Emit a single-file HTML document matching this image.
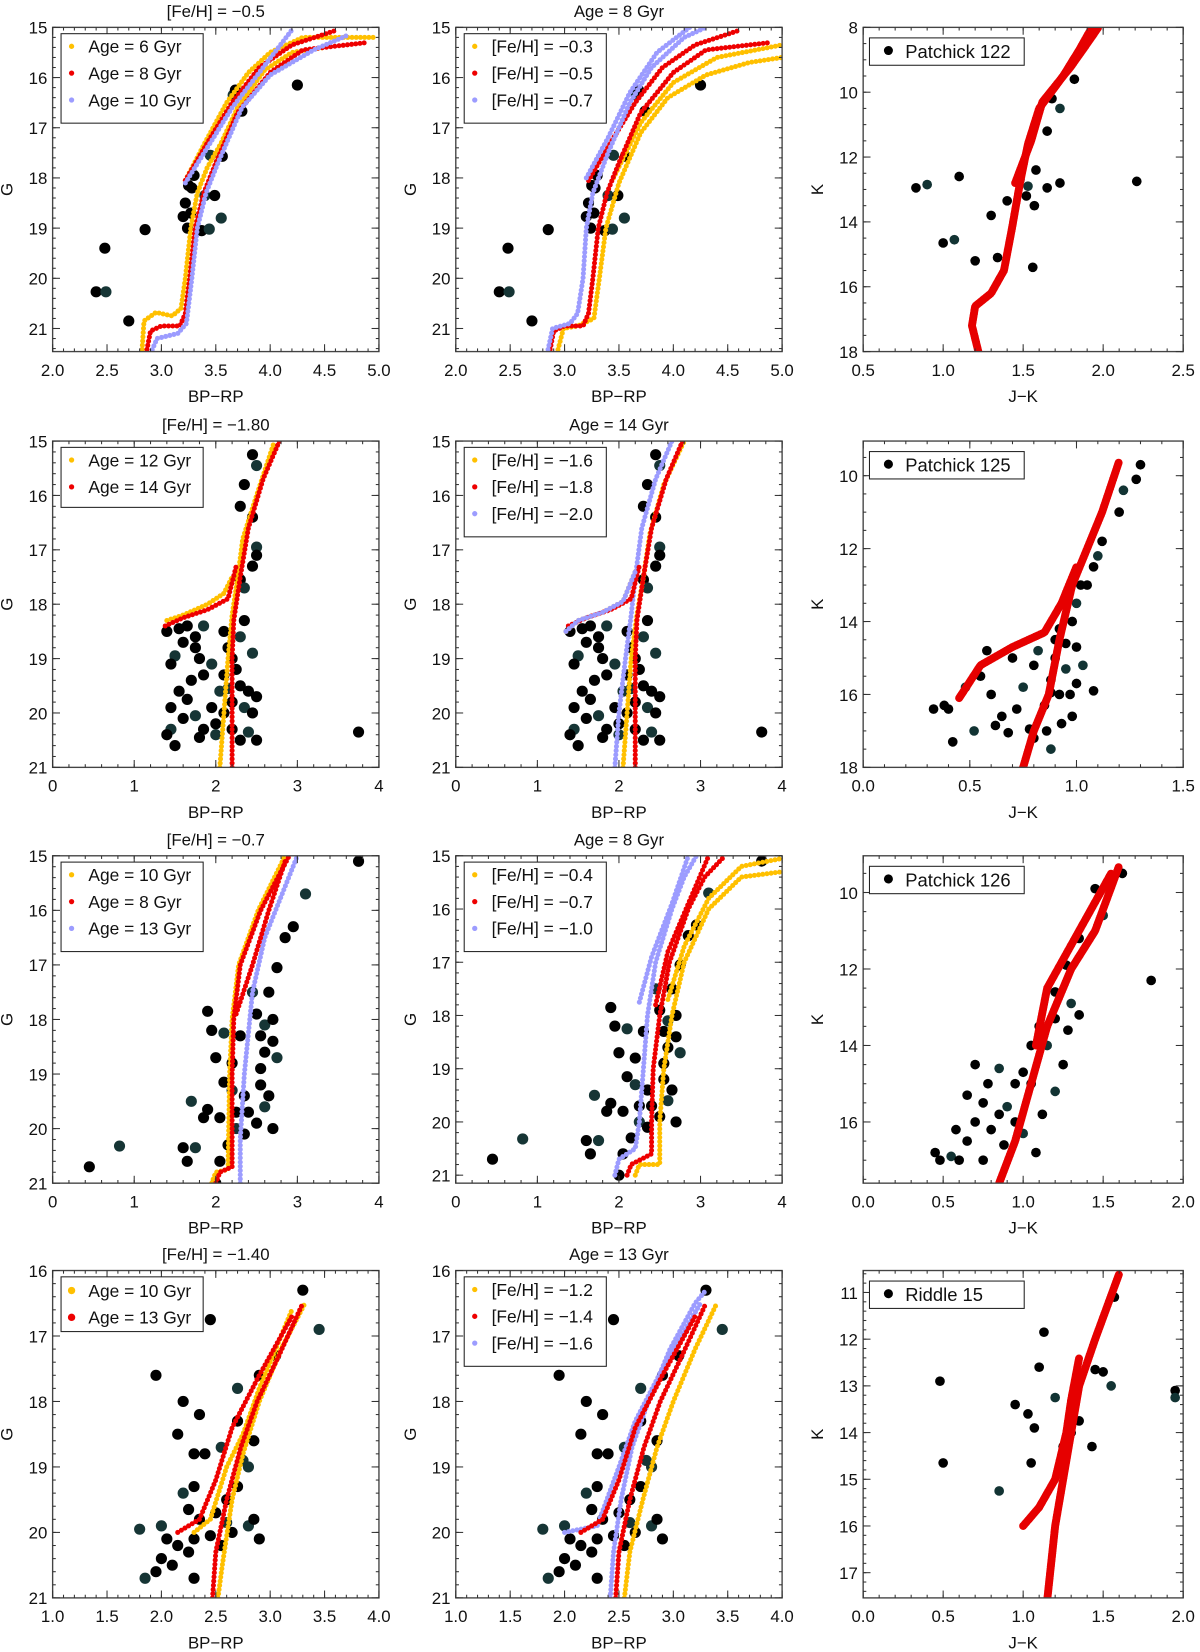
<!DOCTYPE html>
<html><head><meta charset="utf-8"><style>
html,body{margin:0;padding:0;background:#fff}
svg{display:block;font-family:"Liberation Sans","DejaVu Sans",sans-serif}
</style></head><body>
<svg id="fig" width="1200" height="1652" viewBox="0 0 1140 1569.4" preserveAspectRatio="none" xmlns="http://www.w3.org/2000/svg"></svg>
<script>
// ---------- DATA ----------
const ptsA = [[4.25,16.15],[3.66,16.35],[3.68,16.25],[3.74,16.67],[3.56,17.57],[3.45,17.55],[3.3,17.95],[3.25,18.15],[3.28,18.2],[3.4,18.35],[3.49,18.35],[3.22,18.5],[3.2,18.77],[3.55,18.8],[3.27,18.7],[3.24,19.0],[3.37,19.05],[3.44,19.02],[2.85,19.03],[2.48,19.4],[2.4,20.27],[2.49,20.27],[2.7,20.85]];
const iso1_6 = [[2.82,21.5],[2.84,20.85],[2.95,20.68],[3.1,20.75],[3.18,20.6],[3.22,20.0],[3.27,19.0],[3.33,18.3],[3.42,17.8],[3.55,17.3],[3.7,16.6],[3.95,15.85],[4.2,15.5],[4.5,15.4]];
const iso1_6b = [[3.22,18.05],[3.4,17.3],[3.6,16.5],[3.8,15.9],[4.0,15.5],[4.3,15.2],[4.95,15.2]];
const iso1_8 = [[2.86,21.5],[2.9,21.05],[3.0,20.95],[3.17,20.95],[3.22,20.7],[3.26,20.0],[3.31,19.0],[3.39,18.3],[3.5,17.7],[3.7,16.7],[4.0,15.9],[4.3,15.45],[4.9,15.3]];
const iso1_8b = [[3.22,18.05],[3.45,17.2],[3.65,16.5],[3.9,15.8],[4.2,15.35],[4.62,15.05]];
const iso1_10 = [[2.9,21.5],[2.96,21.2],[3.15,21.1],[3.23,20.9],[3.28,20.0],[3.33,19.0],[3.41,18.3],[3.52,17.7],[3.74,16.6],[4.0,15.95],[4.4,15.45],[4.72,15.15]];
const iso1_10b = [[3.22,18.1],[3.45,17.3],[3.65,16.6],[3.9,15.9],[4.2,15.05]];
const iso2_03 = [[2.93,21.5],[2.99,21.0],[3.12,20.95],[3.27,20.8],[3.32,20.0],[3.38,19.0],[3.5,18.1],[3.7,17.1],[3.95,16.4],[4.3,15.95],[4.7,15.7],[5.0,15.6]];
const iso2_03b = [[3.45,18.0],[3.7,16.9],[4.0,16.1],[4.4,15.6],[5.0,15.35]];
const iso2_07 = [[2.84,21.5],[2.89,21.0],[3.05,20.9],[3.12,20.7],[3.17,20.0],[3.2,19.0],[3.26,18.3],[3.4,17.5],[3.6,16.5],[3.8,15.8],[4.1,15.2],[4.3,15.0]];
const iso2_07b = [[3.2,18.0],[3.4,17.2],[3.6,16.3],[3.85,15.5],[4.15,15.0]];
const pts3 = [[1.82,9.6],[1.68,10.2],[1.73,10.5],[1.65,11.2],[1.1,12.6],[1.48,12.7],[1.58,12.4],[1.53,12.9],[1.65,12.95],[1.73,12.8],[1.52,13.2],[0.83,12.95],[0.9,12.85],[1.57,13.5],[1.3,13.8],[1.4,13.35],[1.0,14.65],[1.07,14.55],[1.2,15.2],[1.34,15.1],[1.56,15.4],[2.21,12.75]];
const iso3 = [[1.22,18],[1.18,17.2],[1.2,16.6],[1.3,16.2],[1.38,15.5],[1.43,14.2],[1.48,12.8],[1.53,11.6],[1.6,10.5],[1.75,9.5],[1.85,8.7],[1.93,8]];
const iso3b = [[1.45,12.8],[1.55,11.5],[1.62,10.3],[1.8,9.2],[1.9,8.5],[1.97,8]];
const ptsB = [[2.45,15.25],[2.5,15.45],[2.35,15.8],[2.3,16.2],[2.45,16.4],[2.5,16.95],[2.5,17.1],[2.45,17.3],[2.3,17.55],[2.35,17.7],[1.4,18.5],[1.55,18.45],[1.65,18.4],[1.85,18.4],[1.75,18.6],[1.6,18.7],[1.75,18.8],[1.5,18.95],[1.45,19.1],[1.8,19.0],[1.85,19.3],[1.95,19.1],[2.1,18.5],[2.15,18.8],[2.2,19.0],[2.3,18.6],[2.25,19.2],[2.1,19.3],[2.3,19.5],[2.15,19.55],[2.4,19.6],[2.5,19.7],[2.2,19.8],[2.35,19.9],[2.1,20.0],[2.45,20.0],[2.2,20.3],[2.4,20.35],[1.55,19.6],[1.45,19.9],[1.65,19.75],[1.75,20.05],[1.95,19.9],[1.85,20.3],[2.0,20.2],[1.45,20.3],[1.4,20.4],[1.5,20.6],[1.8,20.45],[2.0,20.4],[2.3,20.5],[2.5,20.5],[3.75,20.35],[2.45,18.9],[2.35,18.3],[1.7,19.4],[1.6,20.1],[2.05,19.6]];
const iso4_12 = [[2.05,21],[2.1,20],[2.15,19],[2.2,18.2],[2.27,17.5],[2.33,16.8],[2.5,16.0],[2.72,15]];
const iso4_12b = [[1.4,18.3],[1.6,18.2],[1.9,18.0],[2.1,17.8],[2.2,17.5]];
const iso4_14 = [[2.2,21],[2.2,20],[2.2,19],[2.22,18.3],[2.3,17.5],[2.4,16.6],[2.58,15.7],[2.78,15]];
const iso4_14b = [[1.38,18.4],[1.6,18.25],[1.9,18.1],[2.15,17.9],[2.25,17.3]];
const iso5_16 = [[2.05,21],[2.1,20],[2.15,19],[2.22,18.2],[2.3,17.5],[2.38,16.7],[2.55,15.8],[2.8,15]];
const iso5_20 = [[1.95,21],[2.0,20],[2.08,19],[2.15,18.2],[2.2,17.5],[2.28,16.6],[2.45,15.7],[2.65,15]];
const iso5_b = [[1.35,18.5],[1.5,18.3],[1.8,18.15],[2.05,17.95],[2.2,17.4]];
const pts6 = [[1.3,9.7],[1.28,10.1],[1.22,10.4],[1.2,11],[1.12,11.8],[1.08,12.5],[1.05,13.0],[1.0,13.5],[0.98,14.0],[0.92,14.2],[0.95,14.6],[0.9,15],[0.95,15.3],[0.88,15.6],[0.92,16.0],[0.85,16.3],[0.8,15.2],[0.75,15.8],[0.72,16.4],[0.65,16.6],[0.6,16.0],[0.55,15.5],[0.48,15.8],[0.4,16.4],[0.33,16.4],[0.38,16.3],[0.42,17.3],[0.52,17.0],[0.62,16.85],[0.68,17.05],[0.78,16.95],[0.8,17.2],[0.88,17.5],[0.98,16.6],[1.0,15.7],[1.08,15.9],[1.0,14.7],[0.82,14.8],[0.7,15.0],[0.58,14.8],[0.86,17.0],[0.97,16.0],[1.03,15.2],[0.9,14.5],[0.88,15.95],[0.93,16.8],[1.02,13.0],[1.1,12.2]];
const iso6 = [[0.75,18],[0.8,17],[0.87,16],[0.92,14.5],[0.98,13],[1.05,12],[1.12,11],[1.2,9.6]];
const iso6b = [[0.45,16.1],[0.55,15.2],[0.7,14.7],[0.85,14.3],[0.93,13.5],[1.0,12.5]];
const ptsC = [[3.75,15.1],[3.1,15.7],[2.95,16.3],[2.85,16.5],[2.65,17.5],[2.45,17.5],[2.75,17.05],[1.9,17.85],[2.5,17.9],[2.6,18.1],[2.7,18.0],[2.55,18.3],[2.7,18.4],[2.75,18.7],[2.6,18.6],[2.3,18.3],[1.95,18.2],[2.1,18.25],[2.2,18.8],[2.0,18.7],[2.1,19.15],[2.2,19.3],[2.35,19.4],[2.55,19.2],[2.65,19.4],[2.6,19.6],[2.4,19.7],[2.25,19.7],[2.05,19.8],[2.25,20.0],[2.35,20.1],[2.15,20.3],[2.5,19.9],[1.7,19.5],[1.85,19.8],[1.9,19.65],[1.6,20.35],[1.75,20.35],[1.65,20.6],[2.05,20.6],[2.0,21.0],[0.82,20.32],[0.45,20.7],[2.7,20.0],[2.55,18.9]];
const iso7_8 = [[2.0,21],[2.05,20.8],[2.2,20.7],[2.2,19],[2.22,18],[2.3,17],[2.55,16],[2.9,15]];
const iso7_10 = [[1.95,21],[2.0,20.8],[2.15,20.75],[2.17,19],[2.2,18],[2.28,17],[2.52,16],[2.85,15]];
const iso7_13 = [[2.3,21],[2.3,20.2],[2.35,19],[2.45,17.5],[2.6,16.5],[3.0,15]];
const iso7_b = [[2.25,17.9],[2.45,17.0],[2.65,16.0],[2.85,15.1]];
const iso8_04 = [[2.2,21],[2.25,20.8],[2.5,20.8],[2.5,20.0],[2.55,19.0],[2.65,18.0],[2.8,17.0],[3.1,16.0],[3.5,15.4],[4.0,15.3]];
const iso8_04b = [[2.6,17.7],[2.8,16.7],[3.1,15.8],[3.5,15.2],[4.0,15.05]];
const iso8_07 = [[2.1,21],[2.15,20.8],[2.4,20.6],[2.4,20.0],[2.42,19.0],[2.5,18.0],[2.62,17.0],[2.85,16.0],[3.05,15.4],[3.3,15.0]];
const iso8_07b = [[2.45,17.8],[2.6,16.8],[2.85,15.9],[3.1,15.0]];
const iso8_10 = [[1.95,21],[2.0,20.7],[2.2,20.5],[2.25,20.0],[2.3,19.0],[2.35,18.0],[2.45,17.0],[2.65,16.0],[2.8,15.4],[2.95,15.0]];
const iso8_10b = [[2.25,17.75],[2.4,16.9],[2.65,15.9],[2.85,15.0]];
const pts9 = [[1.62,9.5],[1.45,9.9],[1.5,10.6],[1.35,11.2],[1.27,11.9],[1.8,12.3],[1.2,12.6],[1.3,12.9],[1.35,13.2],[1.28,13.6],[1.2,13.3],[1.1,13.5],[1.15,14.0],[1.25,14.5],[1.05,14.0],[1.0,14.7],[0.95,15.0],[0.85,14.6],[0.78,15.0],[0.7,14.5],[0.65,15.3],[0.75,15.5],[0.9,15.6],[0.95,16.0],[0.8,16.2],[0.7,16.0],[0.65,16.5],[0.55,16.9],[0.45,16.8],[0.48,17.0],[0.6,17.0],[0.75,17.0],[1.0,16.3],[1.12,15.8],[1.08,16.8],[0.88,16.6],[1.05,15.0],[1.2,15.2],[0.58,16.2],[0.85,15.8]];
const iso9 = [[0.85,17.6],[0.95,16.5],[1.05,15],[1.15,13.5],[1.3,12],[1.45,11],[1.6,9.3]];
const iso9b = [[1.08,14],[1.15,12.5],[1.35,11],[1.55,9.5]];
const ptsD = [[3.3,16.3],[3.45,16.9],[2.45,16.75],[1.95,17.6],[2.2,18.0],[2.55,18.7],[2.4,18.8],[2.7,18.3],[2.85,18.6],[2.8,19.0],[2.7,19.3],[2.6,19.5],[2.3,19.3],[2.2,19.4],[2.25,19.65],[2.35,19.8],[2.5,19.7],[2.8,19.9],[2.65,20.0],[2.9,20.1],[2.85,19.8],[2.0,19.9],[2.05,20.1],[2.15,20.2],[2.3,20.1],[1.8,19.95],[2.0,20.4],[2.1,20.5],[1.95,20.6],[1.85,20.7],[2.3,20.7],[2.25,20.3],[2.55,20.2],[2.6,19.85],[2.45,20.05],[2.3,18.8],[2.15,18.5],[2.7,17.8],[2.9,17.6],[3.05,17.3],[2.35,18.2],[2.75,18.9]];
const iso10_10 = [[2.52,21],[2.56,20.5],[2.65,19.5],[2.75,18.8],[2.9,18],[3.1,17.2],[3.32,16.5]];
const iso10_10b = [[2.3,20],[2.45,19.8],[2.6,19],[2.75,18.5],[2.9,17.8],[3.2,16.6]];
const iso10_13 = [[2.47,21],[2.5,20.3],[2.6,19.5],[2.73,18.7],[2.88,18.0],[3.08,17.3],[3.3,16.5]];
const iso10_13b = [[2.15,20.0],[2.35,19.8],[2.5,19.2],[2.65,18.4],[2.9,17.6],[3.2,16.7]];
const iso11_12 = [[2.55,21],[2.6,20.3],[2.72,19.5],[2.85,18.7],[3.0,18.0],[3.2,17.2],[3.4,16.5]];
const iso11_16 = [[2.42,21],[2.45,20.3],[2.52,19.5],[2.62,18.7],[2.77,18.0],[2.97,17.2],[3.2,16.5],[3.3,16.3]];
const iso11_b = [[2.0,20.0],[2.3,19.9],[2.5,19.0],[2.65,18.3],[2.9,17.5],[3.25,16.5]];
const pts12 = [[0.48,12.9],[0.5,14.65],[0.85,15.25],[0.95,13.4],[1.03,13.6],[1.1,12.6],[1.13,11.85],[1.2,13.25],[1.25,14.3],[1.3,14.0],[1.35,13.75],[1.5,12.7],[1.55,13.0],[1.43,14.3],[1.45,12.65],[1.57,11.1],[1.95,13.1],[1.95,13.25],[1.05,14.65],[1.07,13.9]];
const iso12 = [[1.15,17.6],[1.2,16],[1.25,15],[1.3,14],[1.35,13],[1.45,12],[1.6,10.6]];
const iso12b = [[1.0,16.0],[1.1,15.6],[1.2,15],[1.27,14],[1.3,13.3],[1.35,12.4]];

const ticksA = [2.0,2.5,3.0,3.5,4.0,4.5,5.0];
const ticksB = [0,1,2,3,4];
const ticksC = [1.0,1.5,2.0,2.5,3.0,3.5,4.0];
const yticksA = [15,16,17,18,19,20,21];
const yticksD = [16,17,18,19,20,21];

const OR='#FFC000', RD='#EE0000', BL='#9C9CFF', RR='#E60000';
const C=[[50,360],[433,743],[820,1124]], R=[[26,334],[419,729],[813,1124],[1207,1518]];
const panels=[
 {name:'panel-feh-m05',c:0,r:0,xr:[2,5],yr:[15,21.46],xt:ticksA,yt:yticksA,xm:0.1,ym:0.2,title:'[Fe/H] = −0.5',xl:'BP−RP',yl:'G',pts:ptsA,
  iso:[[iso1_6,OR],[iso1_6b,OR],[iso1_8,RD],[iso1_8b,RD],[iso1_10,BL],[iso1_10b,BL]],leg:[['Age = 6 Gyr',OR],['Age = 8 Gyr',RD],['Age = 10 Gyr',BL]]},
 {name:'panel-age-8-a',c:1,r:0,xr:[2,5],yr:[15,21.46],xt:ticksA,yt:yticksA,xm:0.1,ym:0.2,title:'Age = 8 Gyr',xl:'BP−RP',yl:'G',pts:ptsA,
  iso:[[iso2_03,OR],[iso2_03b,OR],[iso1_8,RD],[iso1_8b,RD],[iso2_07,BL],[iso2_07b,BL]],leg:[['[Fe/H] = −0.3',OR],['[Fe/H] = −0.5',RD],['[Fe/H] = −0.7',BL]]},
 {name:'panel-patchick-122',c:2,r:0,xr:[0.5,2.5],yr:[8,18],xt:[0.5,1.0,1.5,2.0,2.5],yt:[8,10,12,14,16,18],xm:0.1,ym:0.5,title:'',xl:'J−K',yl:'K',pts:pts3,big:1,
  iso:[[iso3,RR],[iso3b,RR]],leg:[['Patchick 122','#000']]},
 {name:'panel-feh-m180',c:0,r:1,xr:[0,4],yr:[15,21],xt:ticksB,yt:yticksA,xm:0.2,ym:0.2,title:'[Fe/H] = −1.80',xl:'BP−RP',yl:'G',pts:ptsB,
  iso:[[iso4_12,OR],[iso4_12b,OR],[iso4_14,RD],[iso4_14b,RD]],leg:[['Age = 12 Gyr',OR],['Age = 14 Gyr',RD]]},
 {name:'panel-age-14',c:1,r:1,xr:[0,4],yr:[15,21],xt:ticksB,yt:yticksA,xm:0.2,ym:0.2,title:'Age = 14 Gyr',xl:'BP−RP',yl:'G',pts:ptsB,
  iso:[[iso5_16,OR],[iso4_14,RD],[iso5_20,BL],[iso5_b,OR],[iso4_14b,RD],[iso5_b,BL]],leg:[['[Fe/H] = −1.6',OR],['[Fe/H] = −1.8',RD],['[Fe/H] = −2.0',BL]]},
 {name:'panel-patchick-125',c:2,r:1,xr:[0,1.5],yr:[9.05,18],xt:[0,0.5,1.0,1.5],yt:[10,12,14,16,18],xm:0.1,ym:0.5,title:'',xl:'J−K',yl:'K',pts:pts6,big:1,
  iso:[[iso6,RR],[iso6b,RR]],leg:[['Patchick 125','#000']]},
 {name:'panel-feh-m07',c:0,r:2,xr:[0,4],yr:[15,21],xt:ticksB,yt:yticksA,xm:0.2,ym:0.2,title:'[Fe/H] = −0.7',xl:'BP−RP',yl:'G',pts:ptsC,
  iso:[[iso7_10,OR],[iso7_8,RD],[iso7_13,BL],[iso7_b,RD]],leg:[['Age = 10 Gyr',OR],['Age = 8 Gyr',RD],['Age = 13 Gyr',BL]]},
 {name:'panel-age-8-b',c:1,r:2,xr:[0,4],yr:[15,21.15],xt:ticksB,yt:yticksA,xm:0.2,ym:0.2,title:'Age = 8 Gyr',xl:'BP−RP',yl:'G',pts:ptsC,
  iso:[[iso8_04,OR],[iso8_04b,OR],[iso8_07,RD],[iso8_07b,RD],[iso8_10,BL],[iso8_10b,BL]],leg:[['[Fe/H] = −0.4',OR],['[Fe/H] = −0.7',RD],['[Fe/H] = −1.0',BL]]},
 {name:'panel-patchick-126',c:2,r:2,xr:[0,2],yr:[9.04,17.6],xt:[0,0.5,1.0,1.5,2.0],yt:[10,12,14,16],xm:0.1,ym:0.5,title:'',xl:'J−K',yl:'K',pts:pts9,big:1,
  iso:[[iso9,RR],[iso9b,RR]],leg:[['Patchick 126','#000']]},
 {name:'panel-feh-m140',c:0,r:3,xr:[1,4],yr:[16,21],xt:ticksC,yt:yticksD,xm:0.1,ym:0.2,title:'[Fe/H] = −1.40',xl:'BP−RP',yl:'G',pts:ptsD,
  iso:[[iso10_10,OR],[iso10_10b,OR],[iso10_13,RD],[iso10_13b,RD]],leg:[['Age = 10 Gyr',OR],['Age = 13 Gyr',RD]],bigleg:1},
 {name:'panel-age-13',c:1,r:3,xr:[1,4],yr:[16,21],xt:ticksC,yt:yticksD,xm:0.1,ym:0.2,title:'Age = 13 Gyr',xl:'BP−RP',yl:'G',pts:ptsD,
  iso:[[iso11_12,OR],[iso10_13,RD],[iso11_16,BL],[iso11_b,BL],[iso10_13b,RD]],leg:[['[Fe/H] = −1.2',OR],['[Fe/H] = −1.4',RD],['[Fe/H] = −1.6',BL]]},
 {name:'panel-riddle-15',c:2,r:3,xr:[0,2],yr:[10.53,17.54],xt:[0,0.5,1.0,1.5,2.0],yt:[11,12,13,14,15,16,17],xm:0.1,ym:0.2,title:'',xl:'J−K',yl:'K',pts:pts12,big:1,
  iso:[[iso12,RR],[iso12b,RR]],leg:[['Riddle 15','#000']]}
];

// ---------- RENDER ----------
const NS='http://www.w3.org/2000/svg', svg=document.getElementById('fig');
function mk(tag,at,par){const e=document.createElementNS(NS,tag);for(const k in at)e.setAttribute(k,at[k]);par.appendChild(e);return e;}
function fmt(v,t){return (t.some(x=>x%1!==0)?v.toFixed(1):String(v)).replace('-','−');}
panels.forEach((p,pi)=>{
  const [L,Rr]=C[p.c],[T,B]=R[p.r];
  const g=mk('g',{},svg);
  
  
  const sx=v=>L+(v-p.xr[0])/(p.xr[1]-p.xr[0])*(Rr-L);
  const sy=v=>T+(v-p.yr[0])/(p.yr[1]-p.yr[0])*(B-T);
  const cid='clip'+pi;
  const cp=mk('clipPath',{id:cid},g);mk('rect',{x:L,y:T,width:Rr-L,height:B-T},cp);
  const plot=mk('g',{'clip-path':'url(#'+cid+')'},g);
  const sg=mk('g',{},plot);
  
  
  const pr=p.big?4.6:5.3;
  p.pts.forEach((d,i)=>{const c=mk('circle',{cx:sx(d[0]),cy:sy(d[1]),r:pr,fill:(i%4==1&&!p.big)?'#163535':(i%5==2&&p.big?'#123333':'#000')},sg);
    
    });
  p.iso.forEach(([arr,col])=>{
    const ig=mk('g',{},plot);
    
    
    const sp=p.big?1.8:4.0, r=p.big?3.8:2.4;
    let carry=0;
    for(let i=0;i<arr.length-1;i++){
      const x1=sx(arr[i][0]),y1=sy(arr[i][1]),x2=sx(arr[i+1][0]),y2=sy(arr[i+1][1]);
      const len=Math.hypot(x2-x1,y2-y1);let t=carry;
      while(t<=len){const f=len?t/len:0;mk('circle',{cx:x1+(x2-x1)*f,cy:y1+(y2-y1)*f,r:r,fill:col},ig);t+=sp;}
      carry=t-len;
    }
  });
  const fr=mk('rect',{x:L,y:T,width:Rr-L,height:B-T,fill:'none',stroke:'#444',"stroke-width":1.3},g);
  
  
  const tk=mk('g',{stroke:'#333',"stroke-width":1},g);
  for(let v=Math.ceil(p.xr[0]/p.xm)*p.xm;v<=p.xr[1]+1e-9;v+=p.xm){const x=sx(v);mk('line',{x1:x,x2:x,y1:B,y2:B-3},tk);mk('line',{x1:x,x2:x,y1:T,y2:T+3},tk);}
  const ylo=Math.min(...p.yr),yhi=Math.max(...p.yr);
  for(let v=Math.ceil(ylo/p.ym)*p.ym;v<=yhi+1e-9;v+=p.ym){const y=sy(v);mk('line',{x1:L,x2:L+3,y1:y,y2:y},tk);mk('line',{x1:Rr,x2:Rr-3,y1:y,y2:y},tk);}
  p.xt.forEach(v=>{const x=sx(v);mk('line',{x1:x,x2:x,y1:B,y2:B-7},tk);mk('line',{x1:x,x2:x,y1:T,y2:T+7},tk);
    const t=mk('text',{x:x,y:B+23,'text-anchor':'middle','font-size':16,fill:'#111'},g);t.textContent=fmt(v,p.xt);
    
    });
  p.yt.forEach(v=>{const y=sy(v);mk('line',{x1:L,x2:L+7,y1:y,y2:y},tk);mk('line',{x1:Rr,x2:Rr-7,y1:y,y2:y},tk);
    const t=mk('text',{x:L-5,y:y+6,'text-anchor':'end','font-size':16,fill:'#111'},g);t.textContent=fmt(v,p.yt);
    
    });
  const xl=mk('text',{x:(L+Rr)/2,y:B+48,'text-anchor':'middle','font-size':16,fill:'#111'},g);xl.textContent=p.xl;
  
  
  const yx=L-38,yy=(T+B)/2;
  const yl=mk('text',{x:yx,y:yy,'text-anchor':'middle','font-size':16,fill:'#111',transform:`rotate(-90 ${yx} ${yy})`},g);yl.textContent=p.yl;
  
  
  if(p.title){const tt=mk('text',{x:(L+Rr)/2,y:T-10,'text-anchor':'middle','font-size':16,fill:'#111'},g);tt.textContent=p.title;
    
    }
  const lg=mk('g',{},g);
  
  
  if(p.big){
    mk('rect',{x:L+6,y:T+10,width:147,height:26,fill:'#fff',stroke:'#222','stroke-width':1},lg);
    mk('circle',{cx:L+24,cy:T+22,r:4.3,fill:'#000'},lg);
    const t=mk('text',{x:L+40,y:T+29,'font-size':17.5,fill:'#111'},lg);t.textContent=p.leg[0][0];
    
    
  } else {
    const n=p.leg.length, h=n==3?85:(p.bigleg?52:57);
    mk('rect',{x:L+8,y:T+6,width:135,height:h,fill:'#fff',stroke:'#222','stroke-width':1},lg);
    p.leg.forEach((e,i)=>{const y=T+(p.bigleg?19:18)+i*25.5;
      mk('circle',{cx:L+18,cy:y,r:p.bigleg?3.5:2.5,fill:e[1]},lg);
      const t=mk('text',{x:L+34,y:y+6,'font-size':16.5,fill:'#111'},lg);t.textContent=e[0];
      
      });
  }
});
</script>
</body></html>
